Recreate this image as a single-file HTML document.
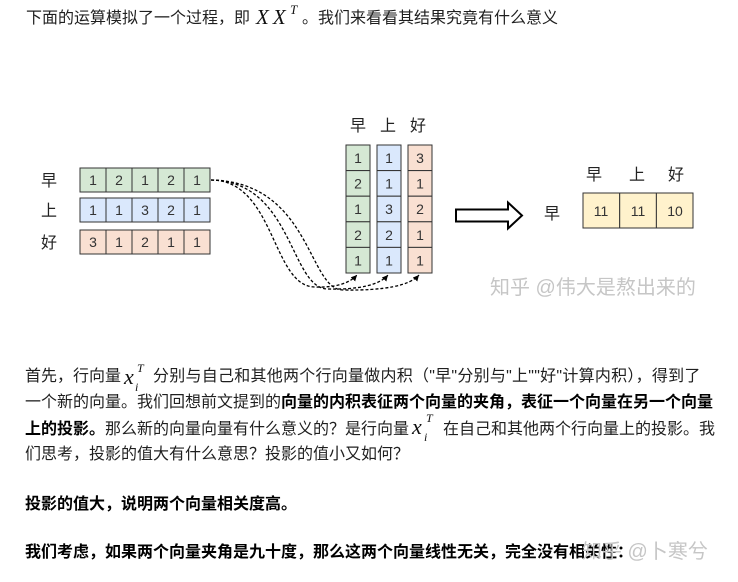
<!DOCTYPE html>
<html>
<head>
<meta charset="utf-8">
<style>
  html,body{margin:0;padding:0;background:#fff;}
  body{width:738px;height:582px;position:relative;overflow:hidden;
       font-family:"Liberation Sans","Noto Sans CJK SC",sans-serif;color:#1f1f1f;}
  .t{position:absolute;white-space:nowrap;font-size:16px;line-height:20px;height:20px;}
  b{font-weight:bold;color:#000;}
  .mx{position:absolute;font-family:"Liberation Serif",serif;font-style:italic;white-space:nowrap;color:#111;}
  .wm{position:absolute;white-space:nowrap;font-size:20px;line-height:24px;color:#c6c6c6;
      font-family:"Liberation Sans","Noto Sans CJK SC",sans-serif;}
</style>
</head>
<body>

<!-- top line -->
<div class="t" style="left:26px;top:9px;">下面的运算模拟了一个过程，即</div>
<div class="mx" style="left:256px;top:5px;font-size:21px;line-height:24px;letter-spacing:4px;">XX</div>
<div class="mx" style="left:290px;top:3px;font-size:13px;line-height:14px;">T</div>
<div class="t" style="left:302px;top:9px;">。我们来看看其结果究竟有什么意义</div>

<!-- diagram -->
<svg width="738" height="582" viewBox="0 0 738 582" style="position:absolute;left:0;top:0;" xmlns="http://www.w3.org/2000/svg">
  <defs>
    <marker id="ah" markerWidth="8" markerHeight="8" refX="6" refY="3" orient="auto" markerUnits="userSpaceOnUse">
      <path d="M0,0 L6,3 L0,6 Z" fill="#000"/>
    </marker>
  </defs>

  <!-- labels -->
  <g font-family="Liberation Sans, Noto Sans CJK SC, sans-serif" font-size="16" fill="#222" text-anchor="middle">
    <text x="49" y="186">早</text>
    <text x="49" y="216">上</text>
    <text x="49" y="248">好</text>
    <text x="358" y="131">早</text>
    <text x="388" y="131">上</text>
    <text x="418" y="131">好</text>
    <text x="594" y="180">早</text>
    <text x="637" y="180">上</text>
    <text x="676" y="180">好</text>
    <text x="552" y="219">早</text>
  </g>

  <!-- left matrix -->
  <g stroke="#333" stroke-width="1">
    <g fill="#d5e8d4">
      <rect x="80" y="168" width="26" height="24"/><rect x="106" y="168" width="26" height="24"/><rect x="132" y="168" width="26" height="24"/><rect x="158" y="168" width="26" height="24"/><rect x="184" y="168" width="26" height="24"/>
    </g>
    <g fill="#dae8fc">
      <rect x="80" y="198" width="26" height="24"/><rect x="106" y="198" width="26" height="24"/><rect x="132" y="198" width="26" height="24"/><rect x="158" y="198" width="26" height="24"/><rect x="184" y="198" width="26" height="24"/>
    </g>
    <g fill="#f9e0d2">
      <rect x="80" y="230" width="26" height="24"/><rect x="106" y="230" width="26" height="24"/><rect x="132" y="230" width="26" height="24"/><rect x="158" y="230" width="26" height="24"/><rect x="184" y="230" width="26" height="24"/>
    </g>
  </g>
  <g font-family="Liberation Sans, sans-serif" font-size="14" fill="#333" text-anchor="middle">
    <text x="93" y="185">1</text><text x="119" y="185">2</text><text x="145" y="185">1</text><text x="171" y="185">2</text><text x="197" y="185">1</text>
    <text x="93" y="215">1</text><text x="119" y="215">1</text><text x="145" y="215">3</text><text x="171" y="215">2</text><text x="197" y="215">1</text>
    <text x="93" y="247">3</text><text x="119" y="247">1</text><text x="145" y="247">2</text><text x="171" y="247">1</text><text x="197" y="247">1</text>
  </g>

  <!-- right columns -->
  <g stroke="#333" stroke-width="1">
    <g fill="#d5e8d4">
      <rect x="346" y="145" width="24" height="25.6"/><rect x="346" y="170.6" width="24" height="25.6"/><rect x="346" y="196.2" width="24" height="25.6"/><rect x="346" y="221.8" width="24" height="25.6"/><rect x="346" y="247.4" width="24" height="25.6"/>
    </g>
    <g fill="#dae8fc">
      <rect x="377" y="145" width="24" height="25.6"/><rect x="377" y="170.6" width="24" height="25.6"/><rect x="377" y="196.2" width="24" height="25.6"/><rect x="377" y="221.8" width="24" height="25.6"/><rect x="377" y="247.4" width="24" height="25.6"/>
    </g>
    <g fill="#f9e0d2">
      <rect x="408" y="145" width="24" height="25.6"/><rect x="408" y="170.6" width="24" height="25.6"/><rect x="408" y="196.2" width="24" height="25.6"/><rect x="408" y="221.8" width="24" height="25.6"/><rect x="408" y="247.4" width="24" height="25.6"/>
    </g>
  </g>
  <g font-family="Liberation Sans, sans-serif" font-size="14" fill="#333" text-anchor="middle">
    <text x="358" y="163">1</text><text x="358" y="188.6">2</text><text x="358" y="214.2">1</text><text x="358" y="239.8">2</text><text x="358" y="265.4">1</text>
    <text x="389" y="163">1</text><text x="389" y="188.6">1</text><text x="389" y="214.2">3</text><text x="389" y="239.8">2</text><text x="389" y="265.4">1</text>
    <text x="420" y="163">3</text><text x="420" y="188.6">1</text><text x="420" y="214.2">2</text><text x="420" y="239.8">1</text><text x="420" y="265.4">1</text>
  </g>

  <!-- dashed curves -->
  <g fill="none" stroke="#000" stroke-width="1.3" stroke-dasharray="3 2">
    <path d="M211,180 C275,180 272,287 315,287 Q345,288 357,275" marker-end="url(#ah)"/>
    <path d="M211,180 C293,181 290,289 328,289 Q375,290 388,275" marker-end="url(#ah)"/>
    <path d="M211,180 C311,182 308,290 343,290 Q405,291 419,275" marker-end="url(#ah)"/>
  </g>

  <!-- block arrow -->
  <path d="M456,209.5 L508,209.5 L508,202.5 L522,215.5 L508,228.5 L508,221.5 L456,221.5 Z" fill="#fff" stroke="#000" stroke-width="2" stroke-linejoin="miter"/>

  <!-- result -->
  <g stroke="#333" stroke-width="1" fill="#fff2cc">
    <rect x="583" y="193" width="36.7" height="35"/>
    <rect x="619.7" y="193" width="36.7" height="35"/>
    <rect x="656.4" y="193" width="36.6" height="35"/>
  </g>
  <g font-family="Liberation Sans, sans-serif" font-size="14" fill="#333" text-anchor="middle">
    <text x="601" y="216">11</text><text x="638" y="216">11</text><text x="675" y="216">10</text>
  </g>
</svg>

<div class="wm" style="left:490px;top:276px;">知乎 @伟大是熬出来的</div>

<!-- paragraph -->
<div class="t" style="left:25px;top:367px;">首先，行向量</div>
<div class="mx" style="left:124px;top:366px;font-size:22px;line-height:22px;">x</div>
<div class="mx" style="left:137px;top:361px;font-size:12px;line-height:14px;">T</div>
<div class="mx" style="left:135px;top:380px;font-size:12px;line-height:14px;">i</div>
<div class="t" style="left:153px;top:367px;letter-spacing:0.25px;">分别与自己和其他两个行向量做内积（"早"分别与"上""好"计算内积），得到了</div>

<div class="t" style="left:25px;top:393px;">一个新的向量。我们回想前文提到的<b>向量的内积表征两个向量的夹角，表征一个向量在另一个向量</b></div>

<div class="t" style="left:25px;top:420px;"><b>上的投影。</b>那么新的向量向量有什么意义的？是行向量</div>
<div class="mx" style="left:412px;top:416px;font-size:22px;line-height:22px;">x</div>
<div class="mx" style="left:426px;top:411px;font-size:12px;line-height:14px;">T</div>
<div class="mx" style="left:424px;top:430px;font-size:12px;line-height:14px;">i</div>
<div class="t" style="left:443px;top:420px;">在自己和其他两个行向量上的投影。我</div>

<div class="t" style="left:25px;top:445px;">们思考，投影的值大有什么意思？投影的值小又如何？</div>

<div class="t" style="left:25px;top:495px;"><b>投影的值大，说明两个向量相关度高。</b></div>

<div class="t" style="left:25px;top:543px;"><b>我们考虑，如果两个向量夹角是九十度，那么这两个向量线性无关，完全没有相关性：</b></div>

<div class="wm" style="left:582px;top:540px;">知乎 @卜寒兮</div>

</body>
</html>
